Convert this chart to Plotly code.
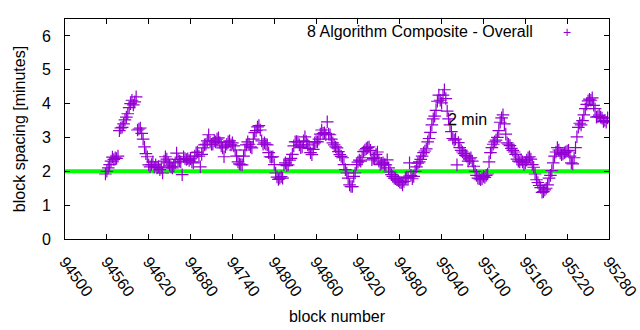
import plotly.graph_objects as go

# Block spacing (minutes) sampled every second block, starting at block 94558
blocks = list(range(94558, 95280, 2))
spacing = [
    1.92, 2.0, 2.1, 2.2, 2.3, 2.42, 2.35, 2.4, 2.38, 2.45,
    3.2, 3.28, 3.3, 3.4, 3.52, 3.6, 3.7, 3.88, 4.0, 4.1,
    3.96, 4.05, 4.2, 3.22, 3.25, 3.28, 3.12, 2.95, 2.72, 2.52,
    2.43, 2.19, 2.13, 2.2, 2.28, 2.12, 2.19, 2.1, 2.13, 2.05,
    2.1, 1.95, 2.3, 2.43, 2.36, 2.25, 2.18, 2.13, 2.1, 2.15,
    2.25, 2.54, 2.35, 2.3, 2.28, 1.9, 2.43, 2.38, 2.35, 2.37,
    2.32, 2.37, 2.28, 2.25, 2.45, 2.55, 2.57, 2.45, 2.13, 2.5,
    2.69, 2.78, 2.8, 2.9, 3.08, 2.87, 2.8, 2.8, 2.9, 2.87,
    2.95, 2.99, 2.85, 2.75, 2.69, 2.43, 2.72, 2.8, 2.87, 2.9,
    2.78, 2.84, 2.75, 2.63, 2.45, 2.28, 2.22, 2.2, 2.19, 2.45,
    2.63, 2.78, 2.87, 2.8, 2.72, 2.69, 2.95, 3.14, 3.2, 3.31,
    3.35, 3.22, 2.9, 2.8, 2.84, 2.8, 2.78, 2.55, 2.43, 2.42,
    2.43, 2.2, 1.95, 1.83, 1.76, 1.8, 1.84, 1.8, 2.2, 2.25,
    2.17, 2.19, 2.33, 2.38, 2.5, 2.75, 2.87, 2.88, 2.87, 2.78,
    2.7, 2.72, 2.9, 3.02, 2.88, 2.78, 2.68, 2.55, 2.49, 2.65,
    2.84, 2.88, 2.87, 2.95, 3.1, 3.22, 3.12, 3.14, 3.08, 3.46,
    3.1, 3.08, 2.95, 2.84, 2.78, 2.72, 2.69, 2.58, 2.49, 2.44,
    2.4, 2.2, 2.05, 1.95, 1.8, 1.6, 1.55, 1.55, 1.85, 1.95,
    2.2, 2.27, 2.33, 2.3, 2.4, 2.58, 2.63, 2.67, 2.7, 2.72,
    2.62, 2.34, 2.38, 2.4, 2.5, 2.57, 2.3, 2.2, 2.24, 2.25,
    2.2, 2.19, 2.34, 2.1, 1.98, 1.9, 1.85, 1.8, 1.78, 1.75,
    1.72, 1.68, 1.66, 1.6, 1.7, 1.8, 1.83, 1.82, 2.25, 1.88,
    1.78, 1.85, 2.0, 2.13, 2.24, 2.28, 2.35, 2.45, 2.55, 2.6,
    2.66, 2.87, 2.97, 3.15, 3.37, 3.55, 3.63, 3.8, 4.07, 4.25,
    4.1, 4.02, 4.25, 4.41, 4.15, 3.78, 3.55, 3.37, 3.17, 2.97,
    2.92, 2.95, 2.19, 2.85, 2.7, 2.62, 2.57, 2.52, 2.47, 2.45,
    2.3, 2.37, 2.4, 2.3, 2.15, 2.0, 1.88, 1.8, 1.78, 1.75,
    1.78, 1.85, 1.82, 1.88, 1.92, 2.28, 2.55, 2.7, 2.8, 2.87,
    2.92, 3.0, 3.2, 3.45, 3.58, 3.67, 3.4, 3.1, 2.84, 2.8,
    2.76, 2.68, 2.62, 2.57, 2.5, 2.36, 2.3, 2.28, 2.34, 2.28,
    2.2, 2.25, 2.33, 2.4, 2.43, 2.36, 2.2, 2.12, 1.92, 1.75,
    1.67, 1.58, 1.52, 1.38, 1.4, 1.45, 1.5, 1.6, 1.8, 1.88,
    2.02, 2.25, 2.45, 2.57, 2.7, 2.63, 2.54, 2.49, 2.51, 2.55,
    2.57, 2.6, 2.62, 2.45, 2.25, 2.22, 2.4, 2.7, 3.02, 3.3,
    3.42, 3.37, 3.5, 3.67, 3.85, 3.98, 4.08, 4.13, 4.1, 4.17,
    3.95, 3.85, 3.6, 3.62, 3.66, 3.6, 3.57, 3.47, 3.5, 3.45, 3.58,
]

target_x = [94500, 95280]
target_y = [2, 2]

x_ticks = list(range(94500, 95281, 60))
y_ticks = [0, 1, 2, 3, 4, 5, 6]

series_name = "8 Algorithm Composite - Overall"
target_name = "2 min"

PURPLE = "#9400D3"
GREEN = "#00FF00"
FONT = "Liberation Sans, Arial, sans-serif"
FS = 16

fig = go.Figure()
fig.add_trace(go.Scatter(
    x=target_x, y=target_y, mode="lines",
    line=dict(color=GREEN, width=4), name=target_name,
))
fig.add_trace(go.Scatter(
    x=blocks, y=spacing, mode="markers", name=series_name,
    marker=dict(symbol="cross-thin", size=9, color=PURPLE,
                line=dict(color=PURPLE, width=1.2)),
))

# key text and sample, top right
fig.add_annotation(xref="paper", yref="paper", x=(535 - 64.5) / 544.5, y=(239 - 31) / 220,
                   text=series_name, showarrow=False, xanchor="right", yanchor="middle",
                   font=dict(family=FONT, size=FS, color="#000000"))
fig.add_annotation(xref="paper", yref="paper", x=(567 - 64.5) / 544.5, y=(239 - 32) / 220,
                   text="+", showarrow=False, xanchor="center", yanchor="middle",
                   font=dict(family=FONT, size=14, color=PURPLE))
fig.add_annotation(x=95046, y=3.52, text=target_name, showarrow=False,
                   xanchor="left", yanchor="middle",
                   font=dict(family=FONT, size=FS, color="#000000"))

axis_common = dict(
    showline=True, linecolor="#000000", linewidth=1, mirror="allticks",
    ticks="inside", ticklen=5, tickcolor="#000000", tickwidth=1,
    showgrid=False, zeroline=False, automargin=False,
    tickfont=dict(family=FONT, size=FS, color="#000000"),
)

fig.update_layout(
    width=640, height=330,
    margin=dict(l=64.5, r=31, t=19, b=91),
    paper_bgcolor="#ffffff", plot_bgcolor="#ffffff",
    showlegend=False,
    font=dict(family=FONT, size=FS, color="#000000"),
    xaxis=dict(range=[94500, 95280], tickvals=x_ticks, ticktext=[str(v) for v in x_ticks],
               tickangle=54, ticklabelstandoff=6, ticklabelshift=0,
               ticklabeloverflow="allow",
               title=dict(text="block number", standoff=12,
                          font=dict(family=FONT, size=FS)),
               **axis_common),
    yaxis=dict(range=[0, 6.5], tickvals=y_ticks, ticklabelstandoff=10,
               title=dict(text="block spacing [minutes]", standoff=12,
                          font=dict(family=FONT, size=FS)),
               **axis_common),
)

fig.write_html("out.html")
